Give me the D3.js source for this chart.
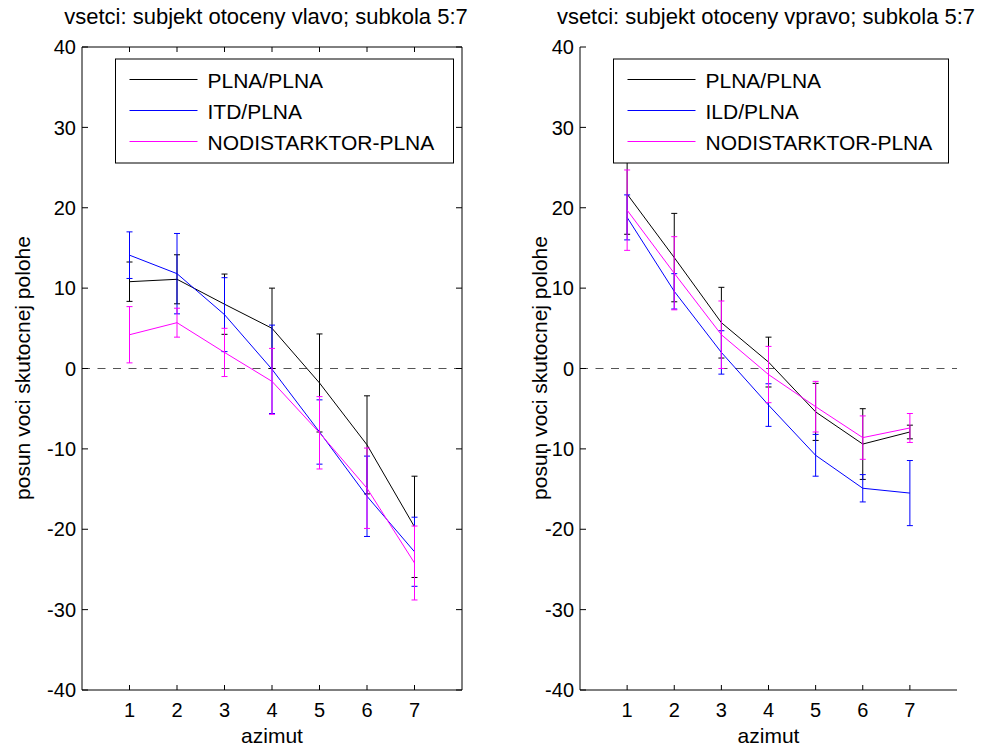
<!DOCTYPE html>
<html><head><meta charset="utf-8">
<script src="https://cdn.jsdelivr.net/npm/d3@7"></script>
<style>
body{margin:0;background:#fff}
text{font-family:"Liberation Sans",Arial,Helvetica,sans-serif;fill:#000}
</style>
</head><body>
<svg id="c" width="983" height="749"></svg>
<script>
// ---- data ----
const azimuts = [1, 2, 3, 4, 5, 6, 7];
const yTicks = [-40, -30, -20, -10, 0, 10, 20, 30, 40];
const leftTitle = "vsetci: subjekt otoceny vlavo; subkola 5:7";
const rightTitle = "vsetci: subjekt otoceny vpravo; subkola 5:7";
const xLabel = "azimut";
const yLabel = "posun voci skutocnej polohe";
const leftNames = ["PLNA/PLNA", "ITD/PLNA", "NODISTARKTOR-PLNA"];
const rightNames = ["PLNA/PLNA", "ILD/PLNA", "NODISTARKTOR-PLNA"];

const leftPlna = [10.8, 11.1, 8.0, 5.0, -1.8, -9.5, -19.7];
const leftPlnaErr = [2.45, 3.05, 3.75, 5.0, 6.1, 6.1, 6.3];
const leftItd = [14.1, 11.8, 6.7, -0.1, -7.9, -15.9, -22.8];
const leftItdErr = [2.9, 5.0, 4.6, 5.5, 4.0, 5.0, 4.3];
const leftNodist = [4.2, 5.7, 2.0, -1.6, -8.0, -14.9, -24.2];
const leftNodistErr = [3.5, 1.8, 3.0, 4.1, 4.5, 5.0, 4.6];

const rightPlna = [21.7, 13.8, 5.7, 0.8, -5.4, -9.4, -7.9];
const rightPlnaErr = [5.0, 5.5, 4.4, 3.1, 3.55, 4.4, 0.85];
const rightIld = [18.8, 9.6, 2.0, -4.55, -10.8, -14.9, -15.5];
const rightIldErr = [2.8, 2.2, 2.7, 2.65, 2.6, 1.7, 4.05];
const rightNodist = [19.7, 11.85, 4.2, -0.75, -4.75, -8.6, -7.4];
const rightNodistErr = [5.0, 4.55, 4.2, 3.5, 3.15, 2.7, 1.8];

const colors = ["#000000", "#0000ff", "#ff00ff"];

// ---- drawing ----
const svg = d3.select("#c");

function panel(cfg) {
  const x = d3.scaleLinear().domain([0, 8]).range([cfg.x0, cfg.x1]);
  const y = d3.scaleLinear().domain([-40, 40]).range([690, 47]);
  const g = svg.append("g");

  // zero reference line
  g.append("line")
    .attr("x1", x(0)).attr("x2", x(8))
    .attr("y1", y(0)).attr("y2", y(0))
    .attr("stroke", "#555").attr("stroke-width", 1)
    .attr("stroke-dasharray", "8,7.5");

  const line = d3.line().x((d, i) => x(azimuts[i])).y(d => y(d));

  cfg.series.forEach((s, k) => {
    const col = colors[k];
    const eg = g.append("g").attr("stroke", col).attr("stroke-width", 1).attr("fill", "none");
    s.values.forEach((v, i) => {
      const xi = x(azimuts[i]);
      const top = y(v + s.err[i]), bot = y(v - s.err[i]);
      eg.append("line").attr("x1", xi).attr("x2", xi).attr("y1", top).attr("y2", bot);
      eg.append("line").attr("x1", xi - 3).attr("x2", xi + 3).attr("y1", top).attr("y2", top);
      eg.append("line").attr("x1", xi - 3).attr("x2", xi + 3).attr("y1", bot).attr("y2", bot);
    });
    eg.append("path").attr("d", line(s.values));
  });

  // axes
  const ax = g.append("g").attr("stroke", "#000").attr("stroke-width", 1).attr("fill", "none");
  ax.append("line").attr("x1", x(0)).attr("x2", x(0)).attr("y1", y(40)).attr("y2", y(-40));
  ax.append("line").attr("x1", x(0)).attr("x2", x(8)).attr("y1", y(-40)).attr("y2", y(-40));
  if (cfg.box) {
    ax.append("line").attr("x1", x(8)).attr("x2", x(8)).attr("y1", y(40)).attr("y2", y(-40));
    ax.append("line").attr("x1", x(0)).attr("x2", x(8)).attr("y1", y(40)).attr("y2", y(40));
  }
  yTicks.forEach(t => {
    ax.append("line").attr("x1", x(0)).attr("x2", x(0) + 6).attr("y1", y(t)).attr("y2", y(t));
    if (cfg.box) ax.append("line").attr("x1", x(8)).attr("x2", x(8) - 6).attr("y1", y(t)).attr("y2", y(t));
  });
  azimuts.forEach(t => {
    ax.append("line").attr("x1", x(t)).attr("x2", x(t)).attr("y1", y(-40)).attr("y2", y(-40) - 5);
    if (cfg.box) ax.append("line").attr("x1", x(t)).attr("x2", x(t)).attr("y1", y(40)).attr("y2", y(40) + 5);
  });

  // tick labels
  g.selectAll(null).data(yTicks).enter().append("text")
    .attr("x", x(0) - 6).attr("y", d => y(d)).attr("dy", "0.36em")
    .attr("text-anchor", "end").attr("font-size", 20).text(d => d);
  g.selectAll(null).data(azimuts).enter().append("text")
    .attr("x", d => x(d)).attr("y", 717)
    .attr("text-anchor", "middle").attr("font-size", 20).text(d => d);

  // labels
  g.append("text").attr("x", (x(0) + x(8)) / 2).attr("y", 743)
    .attr("text-anchor", "middle").attr("font-size", 21).text(xLabel);
  g.append("text").attr("transform", `translate(${cfg.ylabX},368) rotate(-90)`)
    .attr("text-anchor", "middle").attr("font-size", 21).text(yLabel);
  g.append("text").attr("x", cfg.titleX).attr("y", 24)
    .attr("text-anchor", "middle").attr("font-size", 22).text(cfg.title);

  // legend
  const L = cfg.legend;
  const lg = g.append("g");
  lg.append("rect").attr("x", L.x).attr("y", 59).attr("width", L.w).attr("height", 104)
    .attr("fill", "#fff").attr("stroke", "#000").attr("stroke-width", 1);
  cfg.names.forEach((n, k) => {
    const ly = 79.5 + k * 31;
    lg.append("line").attr("x1", L.x + 14).attr("x2", L.x + 82).attr("y1", ly).attr("y2", ly)
      .attr("stroke", colors[k]).attr("stroke-width", 1);
    lg.append("text").attr("x", L.x + 92).attr("y", ly + 8).attr("font-size", 21).text(n);
  });
}

panel({
  x0: 82, x1: 462, box: true, title: leftTitle, titleX: 266, ylabX: 30,
  names: leftNames, legend: {x: 115.5, w: 338},
  series: [
    {values: leftPlna, err: leftPlnaErr},
    {values: leftItd, err: leftItdErr},
    {values: leftNodist, err: leftNodistErr}
  ]
});
panel({
  x0: 580, x1: 957, box: false, title: rightTitle, titleX: 766, ylabX: 547,
  names: rightNames, legend: {x: 613.5, w: 335},
  series: [
    {values: rightPlna, err: rightPlnaErr},
    {values: rightIld, err: rightIldErr},
    {values: rightNodist, err: rightNodistErr}
  ]
});
</script>
</body></html>
